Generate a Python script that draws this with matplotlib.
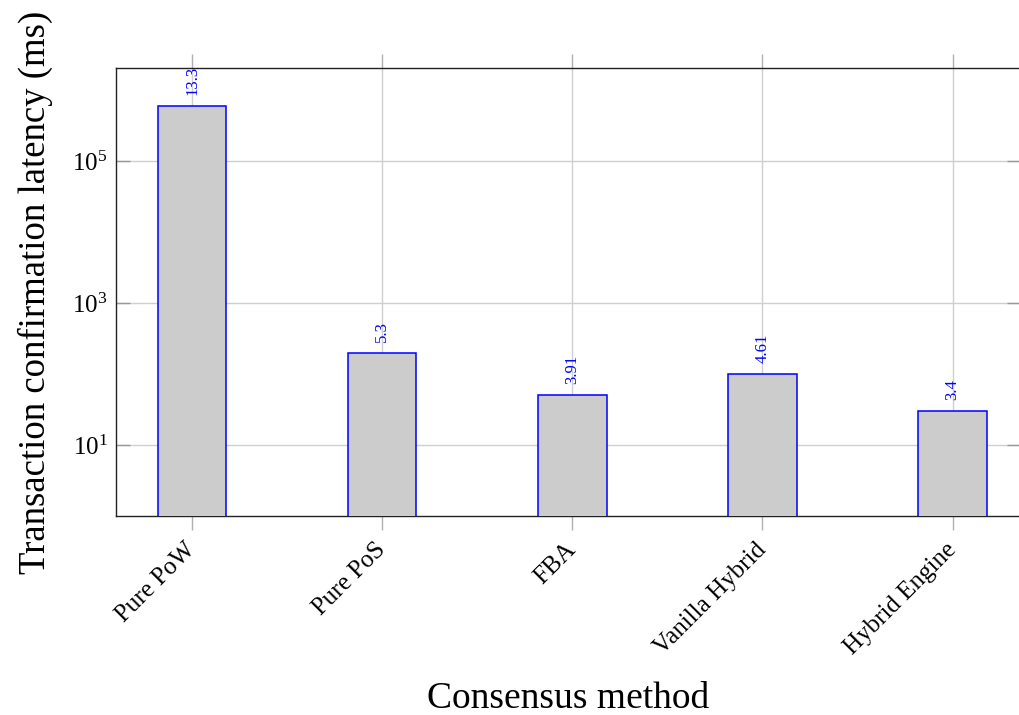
import numpy as np
import matplotlib
matplotlib.use("Agg")
import matplotlib.pyplot as plt
from matplotlib.ticker import FixedLocator, FuncFormatter, NullLocator

plt.rcParams['font.family'] = ['Liberation Serif', 'DejaVu Serif']
plt.rcParams['mathtext.fontset'] = 'custom'
plt.rcParams['mathtext.rm'] = 'Liberation Serif'
plt.rcParams['mathtext.it'] = 'Liberation Serif:italic'

# consensus methods and natural-log latency printed above each bar
methods = ['Pure PoW', 'Pure PoS', 'FBA', 'Vanilla Hybrid', 'Hybrid Engine']
ln_latency = [13.3, 5.3, 3.91, 4.61, 3.4]
latency_ms = np.exp(ln_latency)

fig = plt.figure(figsize=(10.19, 7.15), dpi=100)
ax = fig.add_axes([116 / 1019, 1 - 516 / 715, 905 / 1019, 448 / 715])

x = np.arange(len(methods))
ax.bar(x, latency_ms, width=0.36, color='#cccccc', edgecolor='blue',
       linewidth=1.1, zorder=3, bottom=0)
ax.set_yscale('log')
ax.set_ylim(1, 10 ** 6.31)
ax.set_xlim(-0.4, 4.36)

# values above the bars
for xi, h, lab in zip(x, latency_ms, ln_latency):
    y_txt = h * 10 ** (11 / 71)
    ax.text(xi, y_txt, f'{lab:g}', rotation=90, ha='center', va='bottom',
            color='blue', fontsize=12, clip_on=False, zorder=4)

ax.yaxis.set_major_locator(FixedLocator([1e1, 1e3, 1e5]))
ax.yaxis.set_minor_locator(NullLocator())
ax.yaxis.set_major_formatter(FuncFormatter(lambda v, p: r'$10^{%d}$' % round(np.log10(v))))
ax.set_xticks(x)
ax.set_xticklabels(methods, rotation=45, ha='right', va='center',
                   rotation_mode='anchor')

ax.grid(True, color='#cfcfcf', linewidth=1.0, zorder=0)
ax.set_axisbelow(True)
ax.tick_params(axis='x', direction='out', length=10, width=1.0, color='#b0b0b0',
               top=True, labelsize=18, pad=12)
ax.tick_params(axis='y', direction='in', length=10, width=1.0, color='#999999',
               right=True, labelsize=18, pad=6)
for s in ax.spines.values():
    s.set_color('#222222')
    s.set_linewidth(1.0)

ax.set_ylabel('Transaction confirmation latency (ms)', fontsize=26.5, labelpad=14)
ax.set_xlabel('Consensus method', fontsize=27, labelpad=16)

fig.savefig('out.png', dpi=100)
